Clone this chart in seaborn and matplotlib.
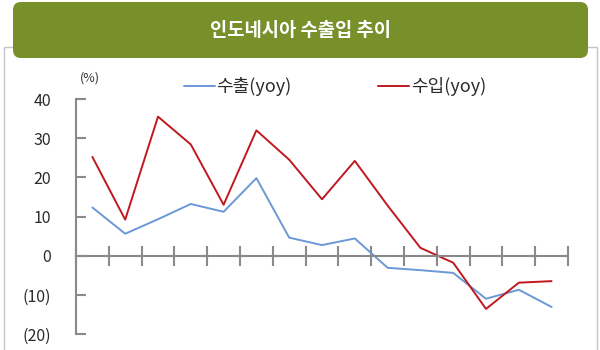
import numpy as np
import pandas as pd
import matplotlib
matplotlib.use("Agg")
import matplotlib.pyplot as plt
import seaborn as sns
from matplotlib.patches import FancyBboxPatch, Rectangle
from matplotlib.transforms import IdentityTransform
from matplotlib.ticker import FuncFormatter

# ---- data ----
title = "인도네시아 수출입 추이"
series_names = ["수출(yoy)", "수입(yoy)"]
periods = list(range(15))
exports_yoy = [12.3, 5.6, 9.3, 13.2, 11.2, 19.8, 4.6, 2.7, 4.4, -3.1, -3.7, -4.4, -11.0, -8.7, -13.1]
imports_yoy = [25.2, 9.2, 35.5, 28.4, 13.0, 32.0, 24.5, 14.4, 24.2, 12.8, 2.0, -1.8, -13.6, -6.9, -6.5]
y_ticks = [-20, -10, 0, 10, 20, 30, 40]
unit_label = "(%)"

colors = {"수출(yoy)": "#6b98d6", "수입(yoy)": "#c0181f"}

df = pd.DataFrame({
    "period": periods * 2,
    "value": exports_yoy + imports_yoy,
    "series": [series_names[0]] * len(periods) + [series_names[1]] * len(periods),
})

sns.set_theme(style="white")
plt.rcParams["font.family"] = ["Noto Sans CJK KR", "DejaVu Sans"]

fig = plt.figure(figsize=(6, 3.5), dpi=100)
ax = fig.add_axes([76 / 600, 1 - 334 / 350, (568 - 76) / 600, (334 - 99) / 350])

sns.lineplot(data=df, x="period", y="value", hue="series", palette=colors,
             hue_order=series_names, linewidth=1.4, ax=ax, legend=True)

ax.set_xlim(-0.5, len(periods) - 0.5)
ax.set_ylim(-20, 40)
ax.set_yticks(y_ticks)
ax.yaxis.set_major_formatter(FuncFormatter(lambda v, p: f"({abs(int(v))})" if v < 0 else f"{int(v)}"))
ax.set_xticks(np.arange(-0.5, len(periods), 1.0))
ax.set_xticklabels([])
ax.set_xlabel("")
ax.set_ylabel("")

for s in ["top", "right"]:
    ax.spines[s].set_visible(False)
ax.spines["bottom"].set_position(("data", 0))
axis_gray = "#8a8a8a"
for s in ["left", "bottom"]:
    ax.spines[s].set_color(axis_gray)
    ax.spines[s].set_linewidth(1.5)
ax.tick_params(axis="y", left=True, direction="in", length=7, width=1.5, color=axis_gray,
               labelsize=11.5, labelcolor="#2b2b2b", pad=18)
ax.tick_params(axis="x", bottom=True, direction="inout", length=14, width=1.5, color=axis_gray)
ax.patch.set_alpha(0)

leg = ax.legend(loc="center", bbox_to_anchor=(335 / 600, 1 - 87 / 350),
                bbox_transform=fig.transFigure, ncol=2, frameon=False,
                fontsize=13, handlelength=1.7, handletextpad=0.1, columnspacing=4.8)
for t in leg.get_texts():
    t.set_color("#2b2b2b")

fig.text(90 / 600, 1 - 78 / 350, unit_label, fontsize=9, color="#333333",
         ha="center", va="center")

# outer frame and title banner
fig.patches.append(Rectangle((3.5, -10), 593, 350 - 47 + 10, transform=IdentityTransform(),
                             fill=False, edgecolor="#c4c4c4", linewidth=1, zorder=0))
fig.patches.append(FancyBboxPatch((13 + 8, 350 - 58 + 8), 575 - 16, 56 - 16,
                                  boxstyle="round,pad=8", transform=IdentityTransform(),
                                  facecolor="#77902a", edgecolor="none", zorder=1))
fig.text(0.5, 1 - 30 / 350, title, fontsize=13.5, fontweight="bold", color="white",
         ha="center", va="center", zorder=2)

fig.savefig("out.png", dpi=100)
